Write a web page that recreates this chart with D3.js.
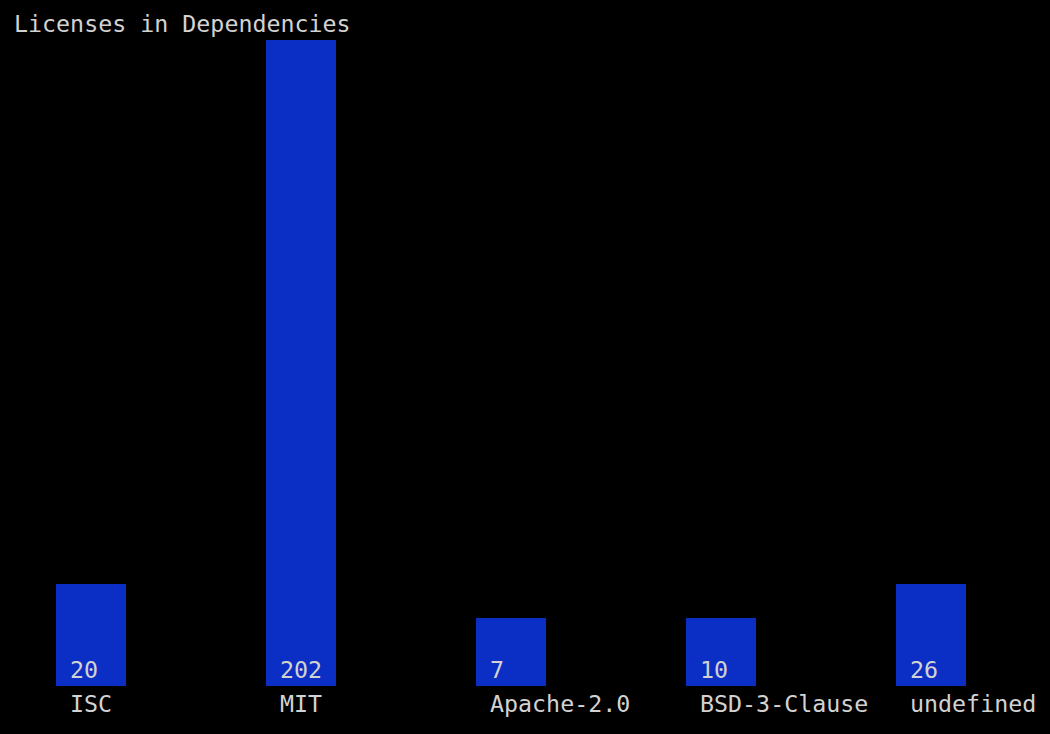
<!DOCTYPE html>
<html>
<head>
<meta charset="utf-8">
<script src="https://cdn.jsdelivr.net/npm/d3@7"></script>
<style>
  html, body { margin: 0; padding: 0; background: #000; }
  svg { display: block; }
  text { font-family: "DejaVu Sans Mono", "Liberation Mono", monospace; font-size: 23.3px; fill: #d2d2d2; }
</style>
</head>
<body>
<script>
const title = "Licenses in Dependencies";
const categories = ["ISC", "MIT", "Apache-2.0", "BSD-3-Clause", "undefined"];
const values = [20, 202, 7, 10, 26];

(function () {
const W = 1050, H = 734;
const rowH = 34, topY = 6;
const svg = d3.select("body").append("svg").attr("width", W).attr("height", H);
svg.append("rect").attr("width", W).attr("height", H).attr("fill", "#000");

// terminal-style quantised rows
const maxRows = 18;
const rowScale = d3.scaleLinear().domain([0, d3.max(values)]).range([0, maxRows]);
const rowsOf = v => Math.round(rowScale(v)) + 1;
const baseRow = maxRows + 2; // row index of baseline (bottom of bars)
const y = d3.scaleLinear().domain([0, baseRow]).range([topY + rowH * baseRow, topY]);

const x = d3.scaleBand().domain(categories).range([56, 966]).paddingInner(2/3).paddingOuter(0).align(0);

svg.append("text").attr("x", 14).attr("y", topY + 26).text(title);

const data = categories.map((c, i) => ({ c, v: values[i] }));

svg.selectAll("rect.bar").data(data).join("rect")
  .attr("class", "bar")
  .attr("x", d => x(d.c))
  .attr("width", x.bandwidth())
  .attr("y", d => y(rowsOf(d.v)))
  .attr("height", d => y(0) - y(rowsOf(d.v)))
  .attr("fill", "#0b2fc4");

svg.selectAll("text.val").data(data).join("text")
  .attr("class", "val")
  .attr("x", d => x(d.c) + 14)
  .attr("y", y(1) + 26)
  .text(d => d.v);

svg.selectAll("text.lab").data(data).join("text")
  .attr("class", "lab")
  .attr("x", d => x(d.c) + 14)
  .attr("y", y(0) + 26)
  .text(d => d.c);
})();
</script>
</body>
</html>
